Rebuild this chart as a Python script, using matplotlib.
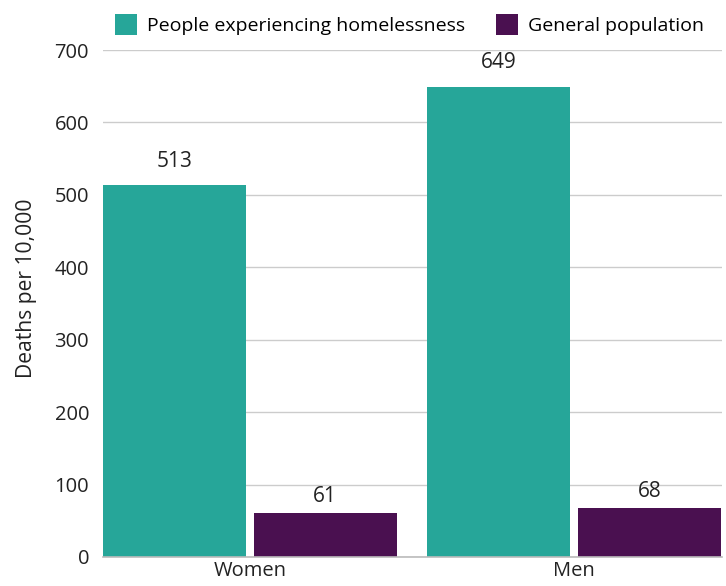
import matplotlib
matplotlib.use("Agg")
import matplotlib.pyplot as plt
import numpy as np

plt.rcParams['font.family'] = ['Open Sans', 'DejaVu Sans']

categories = ["Women", "Men"]
series_names = ["People experiencing homelessness", "General population"]
homeless = [513, 649]
general = [61, 68]
colors = ["#26A699", "#4A1050"]
yticks = [0, 100, 200, 300, 400, 500, 600, 700]

fig = plt.figure(figsize=(7.26, 5.86), dpi=100)
ax = fig.add_axes([103/726, 29/586, 619/726, 507/586])

x = np.arange(len(categories))
w = 0.44
off = 0.2325
b1 = ax.bar(x - off, homeless, w, color=colors[0], label=series_names[0], zorder=3)
b2 = ax.bar(x + off, general, w, color=colors[1], label=series_names[1], zorder=3)
ax.bar_label(b1, padding=10, fontsize=15, color="#222222")
ax.bar_label(b2, padding=4, fontsize=15, color="#222222")

ax.set_xlim(-0.4537, 1.457)
ax.set_ylim(0, 700)
ax.set_yticks(yticks)
ax.set_xticks(x)
ax.set_xticklabels(categories)
ax.tick_params(axis='both', length=0, labelsize=14.5, colors="#222222")
ax.tick_params(axis='y', pad=10)
ax.tick_params(axis='x', pad=3)
ax.grid(axis='y', color="#cccccc", linewidth=1, zorder=0)
for s in ["top", "right", "left"]:
    ax.spines[s].set_visible(False)
ax.spines["bottom"].set_color("#bbbbbb")
ax.spines["bottom"].set_linewidth(1.2)
ax.spines["bottom"].set_zorder(4)
ax.set_ylabel("Deaths per 10,000", fontsize=15.2, color="#222222")
ax.yaxis.set_label_coords(-66/619, (557 - 288) / 507)

fig.legend(handles=[b1, b2], loc="upper center", bbox_to_anchor=(409.5/726, 1.0),
           ncol=2, frameon=False, fontsize=14, handlelength=1.13, handleheight=1.29,
           handletextpad=0.52, columnspacing=1.55, borderaxespad=0.3)

fig.savefig("out.png", dpi=100)
